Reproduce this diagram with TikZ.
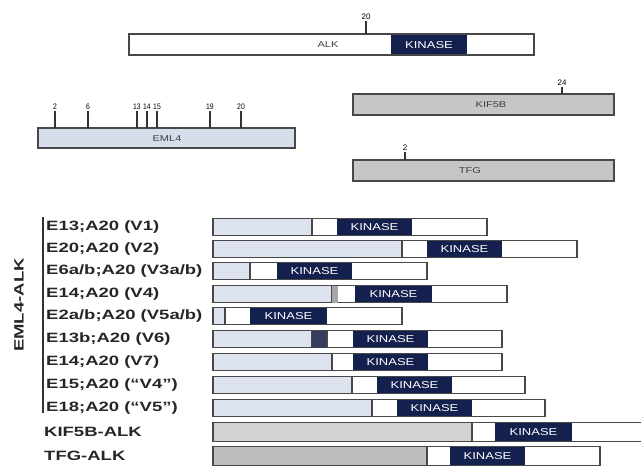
\documentclass[tikz,border=0pt]{standalone}
\usepackage{fontspec}
\setmainfont{Liberation Sans}
\definecolor{kin}{HTML}{14214F}
\definecolor{eml}{HTML}{D6DEEB}
\definecolor{emlf}{HTML}{DCE3EE}
\definecolor{kif}{HTML}{C6C6C6}
\definecolor{kiff}{HTML}{D2D2D2}
\definecolor{tfg}{HTML}{BDBDBD}
\definecolor{edge}{HTML}{484848}
\tikzset{
  barline/.style={draw=edge, line width=1.8pt},
  mark line/.style={draw=black!80, line width=1.3pt},
  marknum/.style={font=\fontsize{8}{8}\selectfont, inner sep=0pt},
  protlab/.style={font=\fontsize{8.5}{8.5}\selectfont, text=black!75, inner sep=0pt},
  kintext/.style={font=\fontsize{10}{10}\selectfont, text=white, inner sep=0pt},
  rowlab/.style={font=\bfseries\fontsize{13.5}{13.5}\selectfont, anchor=west, inner sep=0pt, text=black!85},
}
\newcommand\kintxt{\scalebox{1.3}[1]{KINASE}}
\newcommand\rl[1]{\scalebox{1.37}[1]{#1}}
% #1 name, #2 y centre, #3 half-height, #4 partner colour, #5 x1, #6 x2, #7 x3, #8 x4
\newcommand\fusrow[8]{%
  \fill[#4] (213,#2-#3) rectangle (#5,#2+#3);
  \fill[white] (#5,#2-#3) rectangle (#6,#2+#3);
  \fill[kin] (#6,#2-#3) rectangle (#7,#2+#3);
  \fill[white] (#7,#2-#3) rectangle (#8,#2+#3);
  \draw[draw=edge, line width=1.2pt] (#5,#2-#3) -- (#5,#2+#3);
  \draw[barline] (213,#2-#3) rectangle (#8,#2+#3);
  \node[kintext] (#1) at ({(#6+#7)/2},#2) {\kintxt};
}
\begin{document}
\begin{tikzpicture}[x=1pt,y=-1pt]
\useasboundingbox (0,0) rectangle (641,471);
\fill[white] (0,0) rectangle (641,471);

% ALK
\fill[white] (129,34) rectangle (534,55);
\fill[kin] (391,34) rectangle (467,55);
\draw[barline] (129,34) rectangle (534,55);
\node[protlab] (alk) at (328,45) {\scalebox{1.3}[1]{ALK}};
\node[kintext] (alkk) at (429,45) {\kintxt};
\coordinate (m20) at (366,34);
\draw[mark line] (m20) -- ++(0,-13) coordinate (m20t);
\node[marknum, above=1pt] (n20) at (m20t) {20};

% EML4
\fill[eml] (38,128) rectangle (295,148);
\draw[barline] (38,128) rectangle (295,148);
\node[protlab] (eml4) at (167,138.5) {\scalebox{1.3}[1]{EML4}};
\foreach \x/\n in {55/2, 88/6, 137/13, 147/14, 157/15, 210/19, 241/20}{
  \coordinate (e\n) at (\x,128);
  \draw[mark line] (e\n) -- ++(0,-17) coordinate (e\n t);
  \node[marknum, above=1pt] (en\n) at (e\n t) {\scalebox{0.85}[1]{\n}};
}

% KIF5B
\fill[kif] (353,94) rectangle (614,115);
\draw[barline] (353,94) rectangle (614,115);
\node[protlab] (kif5b) at (491,104.5) {\scalebox{1.3}[1]{KIF5B}};
\coordinate (k24) at (562,94);
\draw[mark line] (k24) -- ++(0,-7) coordinate (k24t);
\node[marknum, above=1pt] (kn24) at (k24t) {24};

% TFG
\fill[kif] (353,160) rectangle (614,181);
\draw[barline] (353,160) rectangle (614,181);
\node[protlab] (tfgl) at (470,170.5) {\scalebox{1.3}[1]{TFG}};
\coordinate (t2) at (405,160);
\draw[mark line] (t2) -- ++(0,-8) coordinate (t2t);
\node[marknum, above=1pt] (tn2) at (t2t) {2};

% fusion rows
\fusrow{r1}{227}{8.5}{emlf}{312}{337}{412}{487}
\fusrow{r2}{249}{8.5}{emlf}{402}{427}{502}{577}
\fusrow{r3}{271}{8.5}{emlf}{250}{277}{352}{427}
\fusrow{r4}{294}{8.5}{emlf}{332}{355}{432}{507}
\fill[gray!70] (332,285.5) rectangle (338,302.5);
\fusrow{r5}{316}{8.5}{emlf}{225}{250}{327}{402}
\fusrow{r6}{339}{8.5}{emlf}{312}{353}{428}{502}
\fill[kin!70!gray] (312,330.5) rectangle (327,347.5);
\draw[draw=edge, line width=1.2pt] (327,330.5) -- (327,347.5);
\fusrow{r7}{362}{8.5}{emlf}{332}{353}{428}{502}
\fusrow{r8}{385}{8.5}{emlf}{352}{377}{452}{525}
\fusrow{r9}{408}{8.5}{emlf}{372}{397}{472}{545}
\fusrow{r10}{432}{9.5}{kiff}{472}{495}{572}{645}
\fusrow{r11}{456}{9.5}{tfg}{427}{450}{525}{600}

% labels
\draw[draw=black!80, line width=1.5pt] (43,217) coordinate (bt) -- (43,413) coordinate (bb);
\node[rowlab] (l1) at (46,227) {\rl{E13;A20 (V1)}};
\node[rowlab] (l2) at (46,249) {\rl{E20;A20 (V2)}};
\node[rowlab] (l3) at (46,271) {\rl{E6a/b;A20 (V3a/b)}};
\node[rowlab] (l4) at (46,294) {\rl{E14;A20 (V4)}};
\node[rowlab] (l5) at (46,316) {\rl{E2a/b;A20 (V5a/b)}};
\node[rowlab] (l6) at (46,339) {\rl{E13b;A20 (V6)}};
\node[rowlab] (l7) at (46,362) {\rl{E14;A20 (V7)}};
\node[rowlab] (l8) at (46,385) {\rl{E15;A20 (“V4”)}};
\node[rowlab] (l9) at (46,408) {\rl{E18;A20 (“V5”)}};
\node[rowlab] (l10) at (44,432) {\rl{KIF5B-ALK}};
\node[rowlab] (l11) at (44,456) {\rl{TFG-ALK}};
\node[rowlab, anchor=center, rotate=90] (emlalk) at (19,305) {\rl{EML4-ALK}};
\end{tikzpicture}
\end{document}
